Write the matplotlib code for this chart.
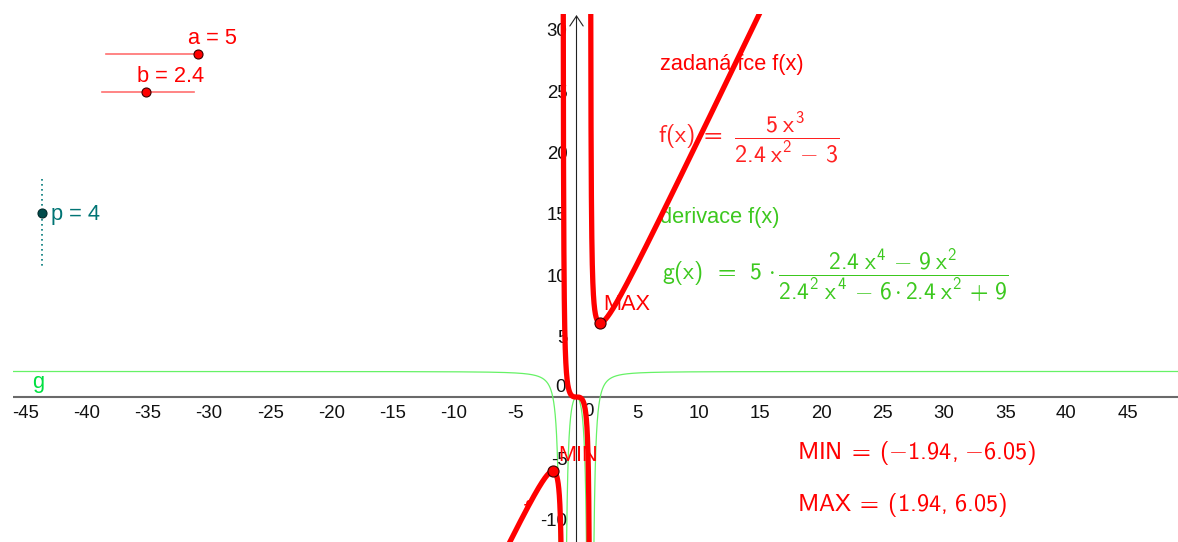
import numpy as np
import matplotlib
matplotlib.use("Agg")
import matplotlib.pyplot as plt
import matplotlib.transforms as mtransforms

# ---- parameters of the function  f(x) = a x^3 / (b x^2 - c) ----
a = 5
b = 2.4
c = 3
p = 4

# slider ranges (value -> knob position)
a_range = (0, 5)
b_range = (0, 5)
p_range = (0, 6.5)

# stationary points as reported
ext_x = [-1.94, 1.94]
ext_y = [-6.05, 6.05]
ext_names = ["MIN", "MAX"]

# axis tick labels
x_ticks = [-45, -40, -35, -30, -25, -20, -15, -10, -5, 5, 10, 15, 20, 25, 30, 35, 40, 45]
y_ticks = [-10, -5, 5, 10, 15, 20, 25, 30]

RED = "#FF0000"
GREEN_TXT = "#3CC81E"
GREEN_CURVE = "#66F266"
GREEN_LBL = "#00E040"
TEAL = "#007474"

plt.rcParams["font.family"] = ["Liberation Sans", "DejaVu Sans"]
plt.rcParams["mathtext.fontset"] = "custom"
plt.rcParams["mathtext.rm"] = "cmss10"
plt.rcParams["mathtext.it"] = "cmss10"
plt.rcParams["mathtext.sf"] = "cmss10"
plt.rcParams["mathtext.bf"] = "cmss10"
plt.rcParams["mathtext.fallback"] = "cm"

W, H = 1178, 542
fig = plt.figure(figsize=(W / 100, H / 100), dpi=100)
fig.patch.set_facecolor("white")

# graphics view: starts a little right of / below the window corner
left_px, top_px = 13, 14
ax = fig.add_axes([left_px / W, 0, (W - left_px) / W, (H - top_px) / H])
scale = 12.25          # pixels per unit (same on both axes)
ox, oy = 576.5, 397    # origin in window pixels
ax.set_xlim((left_px - ox) / scale, (W - ox) / scale)
ax.set_ylim((oy - H) / scale, (oy - top_px) / scale)
ax.axis("off")

PT = 72 / 100  # points per pixel
px = mtransforms.Affine2D().scale(1 / W, -1 / H).translate(0, 1) + fig.transFigure


def f(x):
    return a * x**3 / (b * x**2 - c)


def g(x):
    return a * (b * x**4 - 9 * x**2) / (b**2 * x**4 - 6 * b * x**2 + 9)


# ---- axes ----
x0, x1 = ax.get_xlim()
y0, y1 = ax.get_ylim()
ax.plot([x0, x1], [0, 0], color="#6a6a6a", lw=1.5, zorder=1)
ax.annotate("", xy=(0, (oy - 15) / scale), xytext=(0, y0),
            arrowprops=dict(arrowstyle="->,head_length=0.45,head_width=0.3",
                            color="#222222", lw=0.8, shrinkA=0, shrinkB=0,
                            mutation_scale=16), zorder=1)

for v in x_ticks:
    ax.annotate(str(v), (v, 0), xytext=(0, -16 * PT), textcoords="offset points",
                ha="center", va="center", fontsize=13.4, color="#111111")
for v in y_ticks:
    ax.annotate(str(v), (0, v), xytext=(-9 * PT, -2.5 * PT), textcoords="offset points",
                ha="right", va="center", fontsize=13.4, color="#111111")
ax.annotate("0", (0, 0), xytext=(-15.5 * PT, 10 * PT), textcoords="offset points",
            ha="center", va="center", fontsize=13.4, color="#111111")
ax.annotate("0", (0, 0), xytext=(11.5 * PT, -15 * PT), textcoords="offset points",
            ha="center", va="center", fontsize=13.4, color="#111111")

# ---- curves ----
xa = np.sqrt(c / b)
eps = 1e-5
branches = [np.linspace(x0 - 1, -xa - eps, 20000),
            np.linspace(-xa + eps, xa - eps, 20000),
            np.linspace(xa + eps, x1 + 1, 20000)]
for xs in branches:
    ax.plot(xs, g(xs), color=GREEN_CURVE, lw=0.9, zorder=2)
for xs in branches:
    ax.plot(xs, f(xs), color=RED, lw=3.8, solid_capstyle="round", zorder=4)

ax.plot(ext_x, ext_y, "o", ms=8, mfc=RED, mec="#3a0000", mew=0.8, zorder=5)
for name, ex, ey in zip(ext_names, ext_x, ext_y):
    dx = 6 if name == "MIN" else 3
    dy = 16 if name == "MIN" else 18
    ax.annotate(name, (ex, ey), xytext=(dx * PT, dy * PT), textcoords="offset points",
                ha="left", va="center", fontsize=15.7, color=RED, zorder=3)

# object labels
ax.annotate("f", (-4.2, f(-4.2)), xytext=(0, 2 * PT), textcoords="offset points",
            ha="center", va="center", fontsize=15.7, color=RED, style="italic", zorder=3)
ax.text(32, 388, "g", transform=px, fontsize=15.7, color=GREEN_LBL, ha="left", va="baseline")

# ---- sliders ----
def hslider(xl, xr, y, val, rng, label, lx, ly):
    ax.plot([xl, xr], [y, y], color="#FF7070", lw=1.2, transform=px, zorder=2)
    kx = xl + (val - rng[0]) / (rng[1] - rng[0]) * (xr - xl)
    ax.plot([kx], [y], "o", ms=6.5, mfc=RED, mec="#3a0000", mew=0.8, transform=px, zorder=6)
    ax.text(lx, ly, label, transform=px, fontsize=15.7, color=RED, ha="left", va="baseline")


hslider(106, 198, 54, a, a_range, f"a = {a}", 188, 44)
hslider(102, 194, 92, b, b_range, f"b = {b}", 137, 82)

pt, pb, pxx = 179, 267, 42
ax.plot([pxx, pxx], [pt, pb], color="#007878", lw=1.2, ls=(0, (1, 2)), transform=px, zorder=2)
ky = pb - (p - p_range[0]) / (p_range[1] - p_range[0]) * (pb - pt)
ax.plot([pxx], [ky], "o", ms=6.5, mfc="#004c4c", mec="#002a2a", mew=0.8, transform=px, zorder=6)
ax.text(51, 220, f"p = {p}", transform=px, fontsize=15.7, color=TEAL, ha="left", va="baseline")

# ---- descriptive texts and formulas ----
ax.text(660, 70, "zadaná fce f(x)", transform=px, fontsize=15.7, color=RED,
        ha="left", va="baseline", zorder=1)
f_tex = r"$f(x)\;=\;\,\dfrac{%s\;x^3}{%s\;x^2\,-\,%s}$" % (a, b, c)
ax.text(658, 137, f_tex, transform=px, fontsize=17.2, color="#FF2020",
        ha="left", va="center", zorder=1)

ax.text(660, 223, "derivace f(x)", transform=px, fontsize=15.7, color=GREEN_TXT,
        ha="left", va="baseline", zorder=1)
g_tex = (r"$g(x)\;\;=\;\;%s\,\cdot\dfrac{%s\;x^4\,-\,9\;x^2}{%s^2\;x^4\,-\,6\cdot %s\;x^2\,+\,9}$"
         % (a, b, b, b))
ax.text(662, 275, g_tex, transform=px, fontsize=17.0, color=GREEN_TXT,
        ha="left", va="center", zorder=1)

ax.text(797, 453, r"$MIN\;=\;({-}%.2f,\,{-}%.2f)$" % (-ext_x[0], -ext_y[0]),
        transform=px, fontsize=17.5, color=RED, ha="left", va="center")
ax.text(797, 505, r"$MAX\;=\;(%.2f,\,%.2f)$" % (ext_x[1], ext_y[1]),
        transform=px, fontsize=17.5, color=RED, ha="left", va="center")

fig.savefig("out.png", dpi=100, facecolor="white")
